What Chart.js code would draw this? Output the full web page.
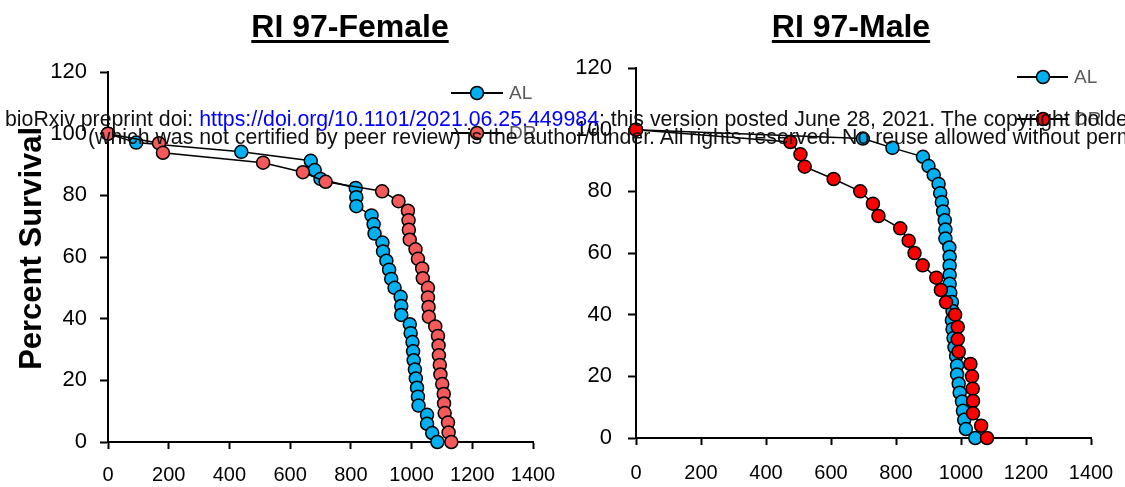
<!DOCTYPE html>
<html lang="en">
<head>
  <meta charset="UTF-8" />
  <title>RI 97 survival</title>
  <script src="https://cdn.jsdelivr.net/npm/chart.js"></script>
  <style>
    body { margin: 0; width: 1125px; height: 487px; background: #fff; position: relative; overflow: hidden; font-family: Arial, "Liberation Sans", sans-serif; }
    .panel { position: absolute; top: 0; height: 487px; }
    .title { position: absolute; top: 8px; font-weight: bold; font-size: 32px; text-decoration: underline; text-decoration-thickness: 3px; text-underline-offset: 3px; transform: translateX(-50%); white-space: nowrap; }
    .stamp { position: absolute; font-size: 21.3px; line-height: 1; white-space: nowrap; color: #111; }
    .stamp a { color: #0000ff; text-decoration: none; }
  </style>
</head>
<body>

  <div class="panel" style="left:0;width:560px;"><canvas id="femaleChart"></canvas></div>
  <div class="panel" style="left:560px;width:565px;"><canvas id="maleChart"></canvas></div>

  <div class="title" style="left:350px;">RI 97-Female</div>
  <div class="title" style="left:851px;">RI 97-Male</div>

  <div class="stamp" style="left:5px;top:108.5px;">bioRxiv preprint doi: <a href="#">https://doi.org/10.1101/2021.06.25.449984</a>; this version posted June 28, 2021. The copyright holder for this preprint</div>
  <div class="stamp" style="left:88px;top:127px;">(which was not certified by peer review) is the author/funder. All rights reserved. No reuse allowed without permission.</div>

  <script>
    const xTicks = [0, 200, 400, 600, 800, 1000, 1200, 1400];
    const yTicks = [0, 20, 40, 60, 80, 100, 120];

    // RI 97 female
    const femaleDaysAL = [0, 93, 439, 668, 681, 700, 816, 818, 818, 868, 875, 878, 904, 906, 917, 926, 933, 944, 964, 966, 966, 994, 997, 1003, 1005, 1007, 1011, 1014, 1018, 1021, 1023, 1051, 1051, 1068, 1085];
    const femaleSurvAL = [100, 97.1, 94.1, 91.2, 88.2, 85.3, 82.4, 79.4, 76.5, 73.5, 70.6, 67.6, 64.7, 61.8, 58.8, 55.9, 52.9, 50, 47.1, 44.1, 41.2, 38.2, 35.3, 32.4, 29.4, 26.5, 23.5, 20.6, 17.6, 14.7, 11.8, 8.8, 5.9, 2.9, 0];
    const femaleDaysDR = [0, 168, 181, 511, 642, 717, 903, 957, 988, 990, 991, 994, 1013, 1021, 1035, 1037, 1054, 1054, 1056, 1057, 1078, 1087, 1089, 1090, 1093, 1095, 1101, 1106, 1107, 1109, 1120, 1122, 1131];
    const femaleSurvDR = [100, 96.9, 93.8, 90.6, 87.5, 84.4, 81.3, 78.1, 75, 71.9, 68.8, 65.6, 62.5, 59.4, 56.3, 53.1, 50, 46.9, 43.8, 40.6, 37.5, 34.4, 31.3, 28.1, 25, 21.9, 18.8, 15.6, 12.5, 9.4, 6.3, 3.1, 0];

    // RI 97 male
    const maleDaysAL = [0, 698, 789, 883, 900, 916, 931, 936, 941, 945, 950, 952, 952, 964, 965, 965, 965, 965, 967, 972, 974, 972, 974, 977, 980, 985, 988, 988, 993, 996, 1003, 1006, 1010, 1015, 1044];
    const maleSurvAL = [100, 97.1, 94.1, 91.2, 88.2, 85.3, 82.4, 79.4, 76.5, 73.5, 70.6, 67.6, 64.7, 61.8, 58.8, 55.9, 52.9, 50, 47.1, 44.1, 41.2, 38.2, 35.3, 32.4, 29.4, 26.5, 23.5, 20.6, 17.6, 14.7, 11.8, 8.8, 5.9, 2.9, 0];
    const maleDaysDR = [0, 475, 506, 519, 608, 690, 729, 746, 813, 839, 857, 882, 924, 938, 954, 982, 990, 990, 993, 1029, 1034, 1036, 1037, 1037, 1062, 1080];
    const maleSurvDR = [100, 96, 92, 88, 84, 80, 76, 72, 68, 64, 60, 56, 52, 48, 44, 40, 36, 32, 28, 24, 20, 16, 12, 8, 4, 0];

    const groupNames = ['AL', 'DR'];
    const blue = '#00B0F0';

    function toPoints(xs, ys) {
      return xs.map((x, i) => ({ x: x, y: ys[i] }));
    }

    // legend drawn as line + marker + label, like the office chart
    const lineLegend = {
      id: 'lineLegend',
      afterDraw(chart, args, opts) {
        const ctx = chart.ctx;
        const area = chart.chartArea;
        const sets = chart.data.datasets;
        ctx.save();
        opts.rows.forEach((rowY, i) => {
          const ds = sets[i];
          const y = area.top + rowY;
          ctx.strokeStyle = '#000';
          ctx.lineWidth = 2;
          ctx.beginPath();
          ctx.moveTo(area.right - opts.lineStart, y);
          ctx.lineTo(area.right - opts.lineEnd, y);
          ctx.stroke();
          ctx.beginPath();
          ctx.arc(area.right - opts.dot, y, 6.5, 0, Math.PI * 2);
          ctx.fillStyle = ds.backgroundColor;
          ctx.fill();
          ctx.lineWidth = 1.5;
          ctx.stroke();
          ctx.fillStyle = '#595959';
          ctx.font = '19px Arial, "Liberation Sans", sans-serif';
          ctx.textBaseline = 'middle';
          ctx.textAlign = 'left';
          ctx.fillText(ds.label, area.right - opts.text, y + 1);
        });
        ctx.restore();
      }
    };

    function makeChart(id, al, dr, drColor, box, legendOpts, yTitle) {
      const plain = v => String(v);
      return new Chart(document.getElementById(id), {
        type: 'line',
        data: {
          datasets: [
            {
              label: groupNames[0], data: al, order: 2,
              backgroundColor: blue, borderColor: '#000', borderWidth: 1.5,
              pointBackgroundColor: blue, pointBorderColor: '#000', pointBorderWidth: 1.5,
              pointRadius: 6.5, tension: 0, clip: false
            },
            {
              label: groupNames[1], data: dr, order: 1,
              backgroundColor: drColor, borderColor: '#000', borderWidth: 1.5,
              pointBackgroundColor: drColor, pointBorderColor: '#000', pointBorderWidth: 1.5,
              pointRadius: 6.5, tension: 0, clip: false
            }
          ]
        },
        options: {
          responsive: true,
          maintainAspectRatio: false,
          animation: false,
          layout: { padding: { left: 0, top: box.top, right: box.right, bottom: 0 } },
          plugins: {
            legend: { display: false },
            tooltip: { enabled: false },
            lineLegend: legendOpts
          },
          scales: {
            x: {
              type: 'linear', min: 0, max: 1400,
              afterBuildTicks: s => { s.ticks = xTicks.map(v => ({ value: v })); },
              afterFit: s => { s.height = box.xh; s.paddingLeft = 0; s.paddingRight = 0; },
              border: { color: '#000', width: 2 },
              grid: { drawOnChartArea: false, drawTicks: true, tickLength: 7, tickWidth: 2, tickColor: '#000' },
              ticks: { callback: plain, color: '#000', font: { size: 20, family: 'Arial, "Liberation Sans", sans-serif' }, padding: box.xpad, maxRotation: 0 }
            },
            y: {
              type: 'linear', min: 0, max: 120,
              afterBuildTicks: s => { s.ticks = yTicks.map(v => ({ value: v })); },
              afterFit: s => { s.width = box.yw; },
              border: { color: '#000', width: 2 },
              grid: { drawOnChartArea: false, drawTicks: true, tickLength: 8, tickWidth: 2, tickColor: '#000' },
              ticks: { callback: plain, color: '#000', font: { size: 22, family: 'Arial, "Liberation Sans", sans-serif' }, padding: box.ypad },
              title: {
                display: !!yTitle, text: yTitle, color: '#000',
                font: { size: 31, weight: 'bold', family: 'Arial, "Liberation Sans", sans-serif', lineHeight: 1 },
                padding: { top: 17, bottom: 0 }
              }
            }
          }
        },
        plugins: [lineLegend]
      });
    }

    makeChart('femaleChart',
      toPoints(femaleDaysAL, femaleSurvAL), toPoints(femaleDaysDR, femaleSurvDR), '#F55A5A',
      { top: 72, right: 27, xh: 45, yw: 108, xpad: 14, ypad: 13 },
      { rows: [21, 61], lineStart: 82, lineEnd: 30, dot: 56, text: 24 },
      '\u00a0\u00a0Percent Survival');

    makeChart('maleChart',
      toPoints(maleDaysAL, maleSurvAL), toPoints(maleDaysDR, maleSurvDR), '#FF0000',
      { top: 68, right: 34, xh: 49, yw: 76, xpad: 16, ypad: 16 },
      { rows: [9, 51], lineStart: 74, lineEnd: 23, dot: 48, text: 17 },
      '');
  </script>
</body>
</html>
